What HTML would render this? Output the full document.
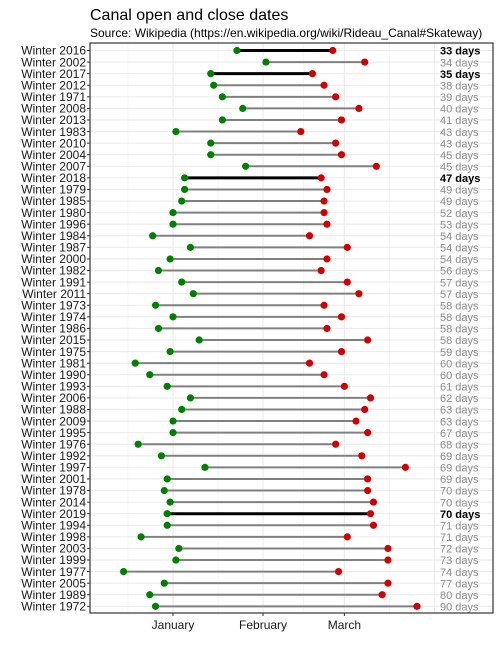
<!DOCTYPE html>
<html><head><meta charset="utf-8"><style>
body{margin:0;background:#fff;font-family:"Liberation Sans",Arial,sans-serif;}
svg text{font-family:"Liberation Sans",Arial,sans-serif;}
</style></head><body>
<svg id="chart" width="500" height="650" viewBox="0 0 500 650">
<text x="90" y="20" font-size="16" fill="#000">Canal open and close dates</text>
<text x="90" y="37" font-size="12" fill="#000">Source: Wikipedia (https://en.wikipedia.org/wiki/Rideau_Canal#Skateway)</text>
<g id="grid"></g><g id="marks"></g><g id="labels"></g>
<rect x="90" y="43" width="403" height="570" fill="none" stroke="#333" stroke-width="1.2"/>
</svg>
<script>
const winters=["2016","2002","2017","2012","1971","2008","2013","1983","2010","2004","2007","2018","1979","1985","1980","1996","1984","1987","2000","1982","1991","2011","1973","1974","1986","2015","1975","1981","1990","1993","2006","1988","2009","1995","1976","1992","1997","2001","1978","2014","2019","1994","1998","2003","1999","1977","2005","1989","1972"];
const openDay=[22,32,13,14,17,24,17,1,13,13,25,4,4,3,0,0,-7,6,-1,-5,3,7,-6,0,-5,9,-1,-13,-8,-2,6,3,0,0,-12,-4,11,-2,-3,-1,-2,-2,-11,2,1,-17,-3,-8,-6];
const closeDay=[55,66,48,52,56,64,58,44,56,58,70,51,53,52,52,53,47,60,53,51,60,64,52,58,53,67,58,47,52,59,68,66,63,67,56,65,80,67,67,69,68,69,60,74,74,57,74,72,84];
const days=[33,34,35,38,39,40,41,43,43,45,45,47,49,49,52,53,54,54,54,56,57,57,58,58,58,58,59,60,60,61,62,63,63,67,68,69,69,69,70,70,70,71,71,72,73,74,77,80,90];
const highlight=["2016","2017","2018","2019"];
const monthLabels=["January","February","March"];
const monthDays=[0,31,59];
const NS="http://www.w3.org/2000/svg";
const x=d=>173+d*2.905;
const y=i=>50.5+i*11.58;
function mk(tag,attrs,parent){const e=document.createElementNS(NS,tag);for(const k in attrs)e.setAttribute(k,attrs[k]);parent.appendChild(e);return e;}
const grid=document.getElementById('grid'),marks=document.getElementById('marks'),labels=document.getElementById('labels');
// minor grid
[-15.5,15.5,45,74.5].forEach(d=>{const l=mk('line',{x1:x(d),x2:x(d),y1:43,y2:613,stroke:'#f2f2f2','stroke-width':0.6},grid);

});
[0,31,59,90].forEach(d=>{const l=mk('line',{x1:x(d),x2:x(d),y1:43,y2:613,stroke:'#ebebeb','stroke-width':1.1},grid);

});
winters.forEach((w,i)=>{const l=mk('line',{x1:90,x2:493,y1:y(i),y2:y(i),stroke:'#ebebeb','stroke-width':1.1},grid);

});
winters.forEach((w,i)=>{
const hi=highlight.includes(w);
const seg=mk('line',{x1:x(openDay[i]),x2:x(closeDay[i]),y1:y(i),y2:y(i),stroke:hi?'#000':'#808080','stroke-width':hi?3:2},marks);


const o=mk('circle',{cx:x(openDay[i]),cy:y(i),r:3.6,fill:'#008000'},marks);


const c=mk('circle',{cx:x(closeDay[i]),cy:y(i),r:3.6,fill:'#d40000'},marks);


const t=mk('text',{x:86,y:y(i)+4.2,'font-size':12,'text-anchor':'end',fill:'#1a1a1a'},labels);t.textContent='Winter '+w;


const tk=mk('line',{x1:87,x2:90,y1:y(i),y2:y(i),stroke:'#333','stroke-width':1},labels);


const dl=mk('text',{x:440,y:y(i)+4.2,'font-size':11,fill:hi?'#000':'#8c8c8c','font-weight':hi?'bold':'normal'},labels);dl.textContent=days[i]+' days';


});
monthLabels.forEach((m,i)=>{
const tk=mk('line',{x1:x(monthDays[i]),x2:x(monthDays[i]),y1:613,y2:616,stroke:'#333','stroke-width':1},labels);


const t=mk('text',{x:x(monthDays[i]),y:629,'font-size':12,'text-anchor':'middle',fill:'#1a1a1a'},labels);t.textContent=m;


});
</script>
</body></html>
